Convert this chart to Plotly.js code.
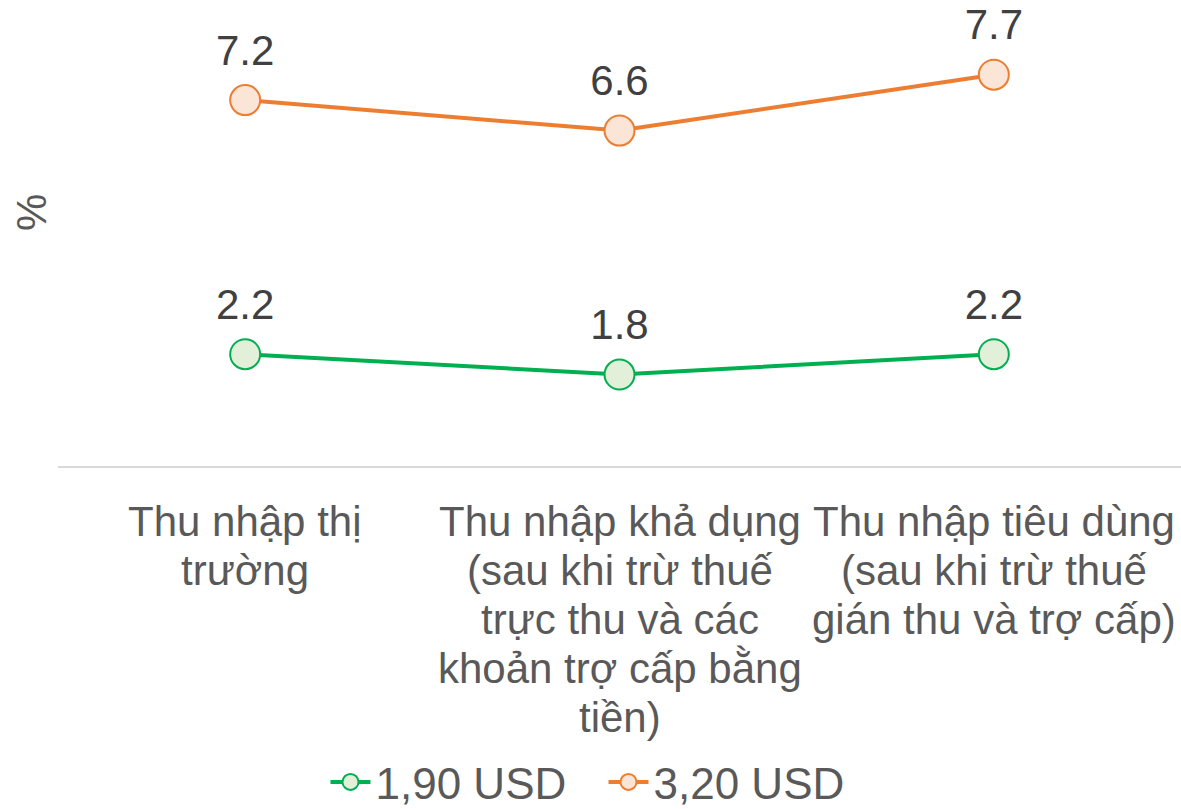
<!DOCTYPE html>
<html>
<head>
<meta charset="utf-8">
<script src="https://cdn.plot.ly/plotly-3.0.1.min.js"></script>
<style>html,body{margin:0;padding:0;background:#fff;}#chart{width:1181px;height:809px;}</style>
</head>
<body>
<div id="chart"></div>
<script>
var categoryLines = [
  ["Thu nhập thị", "trường"],
  ["Thu nhập khả dụng", "(sau khi trừ thuế", "trực thu và các", "khoản trợ cấp bằng", "tiền)"],
  ["Thu nhập tiêu dùng", "(sau khi trừ thuế", "gián thu và trợ cấp)"]
];
var categories = categoryLines.map(function(l){return l.join(" ");});
var seriesNames = ["1,90 USD", "3,20 USD"];
var values190 = [2.2, 1.8, 2.2];
var values320 = [7.2, 6.6, 7.7];
var yTitle = "%";

var font = "Liberation Sans, Arial, sans-serif";
var FS = 42;
function mk(name, vals, line, fill) {
  return {
    type: "scatter", mode: "lines+markers",
    name: name, x: categories, y: vals,
    line: {color: line, width: 4},
    marker: {size: 30, color: fill, line: {color: line, width: 2}},
    cliponaxis: false, hoverinfo: "skip"
  };
}
function lbl(vals) {
  return {
    type: "scatter", mode: "markers+text", showlegend: false,
    x: categories, y: vals,
    text: vals.map(function(v){return v.toFixed(1);}),
    textposition: "top center",
    textfont: {family: font, size: FS, color: "#404040"},
    marker: {size: 38, opacity: 0},
    cliponaxis: false, hoverinfo: "skip"
  };
}
var data = [
  mk(seriesNames[0], values190, "#00B050", "#E2F0D9"),
  mk(seriesNames[1], values320, "#ED7D31", "#FBE5D6"),
  lbl(values190), lbl(values320)
];
var annotations = [];
categoryLines.forEach(function(lines, i){
  lines.forEach(function(t, j){
    annotations.push({
      xref: "x", yref: "paper", x: categories[i], y: 0, yanchor: "middle",
      yshift: -(55 + j * 49.2), text: t, showarrow: false,
      font: {family: font, size: FS, color: "#595959"}
    });
  });
});
annotations.push({
  xref: "paper", yref: "paper", x: 0, y: 0.543, xanchor: "center", yanchor: "middle",
  xshift: -26, text: yTitle, textangle: -90, showarrow: false,
  font: {family: font, size: FS, color: "#595959"}
});
var layout = {
  width: 1181, height: 809,
  margin: {l: 58, r: 0, t: 0, b: 343, autoexpand: false},
  paper_bgcolor: "#fff", plot_bgcolor: "#fff",
  showlegend: true,
  legend: {orientation: "h", x: 0.511, xref: "container", xanchor: "center",
           y: 0.033, yref: "container", yanchor: "middle",
           font: {family: font, size: 44, color: "#595959"}, itemwidth: 40,
           entrywidthmode: "pixels", entrywidth: 223, tracegroupgap: 0},
  xaxis: {type: "category", range: [-0.5, 2.5], showgrid: false, zeroline: false,
          showline: true, linecolor: "#D9D9D9", linewidth: 2, ticks: "",
          showticklabels: false, fixedrange: true, automargin: false},
  yaxis: {range: [0, 9.17], showgrid: false, zeroline: false, showline: false,
          showticklabels: false, ticks: "", fixedrange: true, automargin: false},
  annotations: annotations,
  font: {family: font}
};
Plotly.newPlot("chart", data, layout, {displayModeBar: false, staticPlot: true});
</script>
</body>
</html>
